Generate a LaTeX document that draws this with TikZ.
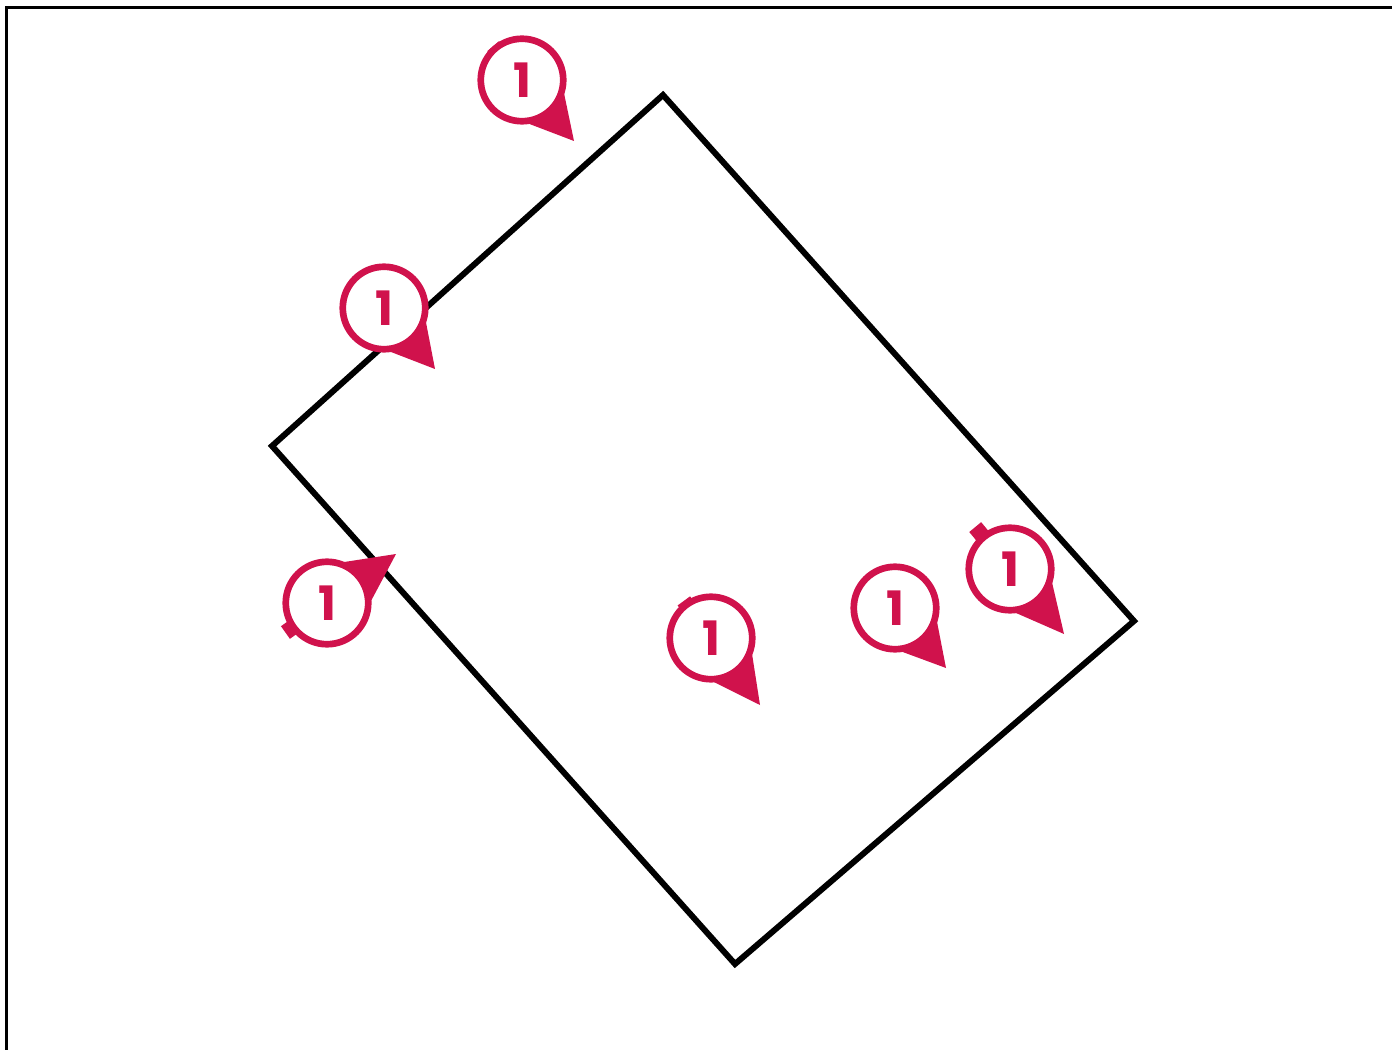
\documentclass[tikz,border=0pt]{standalone}
\usepackage{fontspec}
\setsansfont{Poppins}
\usepackage{xcolor}
\usetikzlibrary{calc,backgrounds}
\definecolor{pinred}{HTML}{D0124C}
\begin{document}
\begin{tikzpicture}[
  x=0.02cm, y=-0.02cm,
  pin/.style  ={circle, draw=pinred, fill=white, line width=3.8pt, minimum size=1.65cm,
                inner sep=0pt, outer sep=0pt, text=pinred, font=\sffamily\bfseries\fontsize{27}{27}\selectfont},
  wedge/.style={fill=pinred},
  tick/.style ={draw=pinred, line width=8.8pt},
  edge/.style ={draw=black, line width=3.4pt},
  frm/.style  ={draw=black, line width=2pt}
]
\useasboundingbox (0,0) rectangle (1392,1050);

% ---------- frame and room ----------
\begin{scope}[on background layer]
\draw[frm] (6.5,1050) -- (6.5,7.5) -- (1392,7.5);
\coordinate (ca) at (663,95);
\coordinate (cb) at (1134,621);
\coordinate (cc) at (735,964);
\coordinate (cd) at (272,446);
\draw[edge] (ca) -- (cb) -- (cc) -- (cd) -- cycle;
\end{scope}

% ---------- pins ----------
\foreach \nm/\px/\py/\tx/\ty/\tk in {
  pa/522/80/574/141/0.89cm,
  pb/384/308/435/369/0.86cm,
  pc/327/603/396/554/1.02cm,
  pd/711/638/760/705/0.92cm,
  pe/895/608/946/668/0.86cm,
  pf/1010/569/1064/634/1.09cm}
{
  \node[pin] (\nm) at (\px,\py) {1};
  \coordinate (\nm tip) at (\tx,\ty);
  \begin{scope}[on background layer]
    \fill[wedge] ($(\nm)!0.82cm!41:(\nm tip)$) -- (\nm tip) -- ($(\nm)!0.82cm!-41:(\nm tip)$) -- cycle;
    \draw[tick] ($(\nm)!0.80cm!180:(\nm tip)$) -- ($(\nm)!\tk!180:(\nm tip)$);
  \end{scope}
}
\end{tikzpicture}
\end{document}
